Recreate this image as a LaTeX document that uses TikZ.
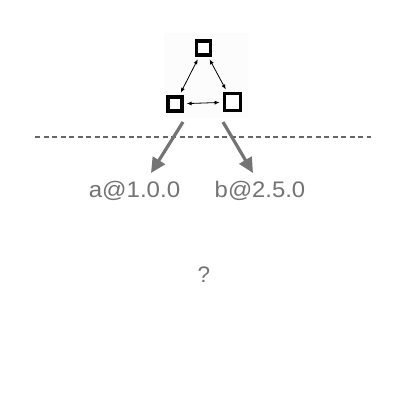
\documentclass[tikz,border=0pt]{standalone}
\usepackage{fontspec}
\setmainfont{Liberation Sans}
\usetikzlibrary{arrows.meta}
\definecolor{txtgray}{HTML}{737373}
\definecolor{arrgray}{HTML}{747474}
\definecolor{dashgray}{HTML}{666666}
\definecolor{bgfaint}{HTML}{FCFCFC}
\tikzset{
  box/.style={draw=black, line width=3.2pt, fill=white, inner sep=0pt, minimum width=#1, minimum height=#1},
  thin arrow/.style={{Latex[length=5pt,width=4pt]}-{Latex[length=5pt,width=4pt]}, line width=0.8pt, black, shorten >=3pt, shorten <=3pt},
  big arrow/.style={-{Triangle[length=15pt,width=14pt]}, line width=3.2pt, arrgray},
  label/.style={text=txtgray, font=\fontsize{22.5}{26}\selectfont, inner sep=0pt, anchor=base}
}
\begin{document}
\begin{tikzpicture}[x=1pt,y=-1pt]
\useasboundingbox (0,0) rectangle (400,400);
\fill[bgfaint] (164,33) rectangle (249,118);
\node[box=14pt] (top) at (203.5,48) {};
\node[box=14pt] (bl) at (175,104) {};
\node[box=16.5pt] (br) at (232.5,102) {};
\draw[thin arrow] (top) -- (bl);
\draw[thin arrow] (top) -- (br);
\draw[thin arrow] (bl) -- (br);
\draw[dashgray, line width=1.4pt, dash pattern=on 5pt off 3.5pt] (35,137) -- (371,137);
\coordinate (as) at (183,122);
\coordinate (ae) at (151,173);
\coordinate (bs) at (223,122);
\coordinate (be) at (253,173);
\draw[big arrow] (as) -- (ae);
\draw[big arrow] (bs) -- (be);
\node[label] (la) at (134.5,197.5) {\scalebox{1.07}[1]{a@1.0.0}};
\node[label] (lb) at (260,197.5) {\scalebox{1.06}[1]{b@2.5.0}};
\node[label] (q) at (204,282.5) {?};
\end{tikzpicture}
\end{document}
